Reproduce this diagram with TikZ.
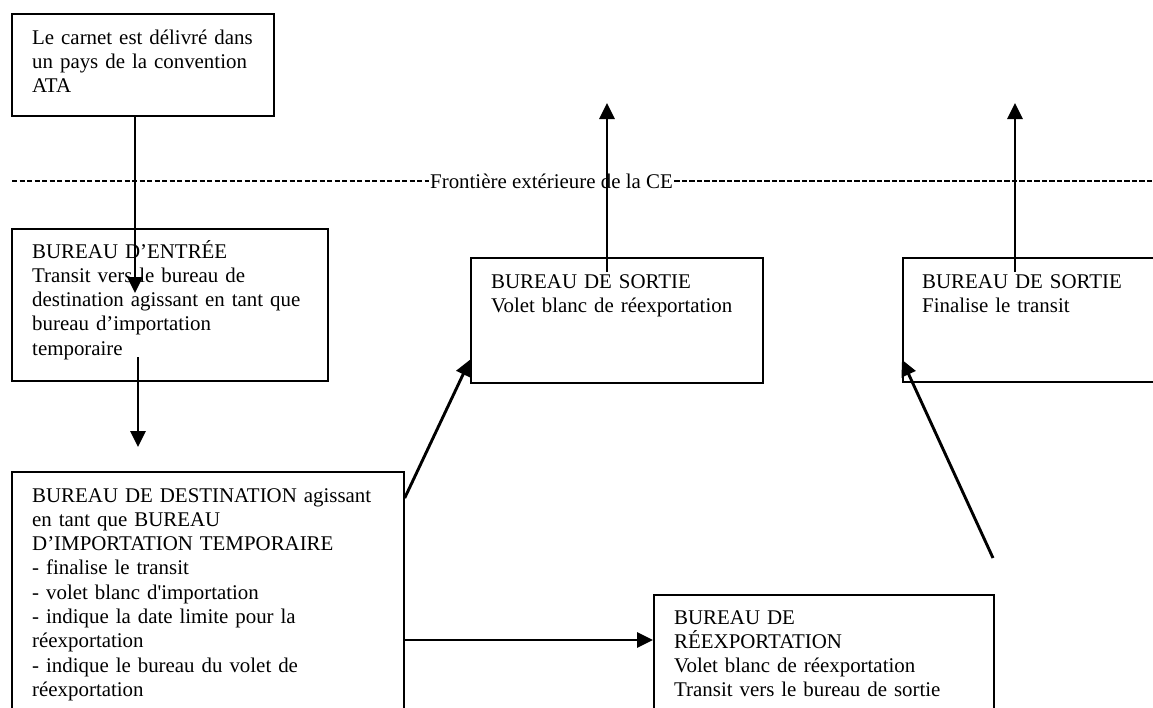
\documentclass[tikz,border=0pt]{standalone}
\usepackage{fontspec}
\setmainfont{Liberation Serif}[Ligatures=TeXOff]
\usetikzlibrary{arrows.meta,calc}
\tikzset{
  office/.style={draw=black, line width=1.7pt, rectangle, inner sep=0pt, anchor=north west},
  officetext/.style={anchor=base west, inner sep=0pt, align=left, text width=370pt,
    font=\fontsize{20.9pt}{24.3pt}\selectfont},
  flow/.style={line width=2.9pt, -{Triangle[length=16pt,width=15pt]}},
  frontierline/.style={line width=1.3pt, dash pattern=on 5.4pt off 2.1pt},
}
\begin{document}
\begin{tikzpicture}[x=1pt,y=-1pt]
\useasboundingbox (0,0) rectangle (1153,707);
\clip (0,0) rectangle (1153,707);
\fill[white] (0,0) rectangle (1153,707);

% offices
\node[office, minimum width=262pt, minimum height=102pt] (issue) at (11,13) {};
\node[office, minimum width=316pt, minimum height=152pt] (entry) at (11,228) {};
\node[office, minimum width=392pt, minimum height=300pt] (dest) at (11,471) {};
\node[office, minimum width=292pt, minimum height=125pt] (exit1) at (470,257) {};
\node[office, minimum width=300pt, minimum height=124pt] (exit2) at (902,257) {};
\node[office, minimum width=340pt, minimum height=200pt] (reexport) at (653,594) {};

% texts of the offices
\node[officetext] (issuetxt) at (32,44) {Le carnet est délivré dans\\un pays de la convention\\ATA};
\node[officetext] (entrytxt) at (32,258) {BUREAU D’ENTRÉE\\Transit vers le bureau de\\destination agissant en tant que\\bureau d’importation\\temporaire};
\node[officetext] (desttxt) at (32,502) {BUREAU DE DESTINATION agissant\\en tant que BUREAU\\D’IMPORTATION TEMPORAIRE\\- finalise le transit\\- volet blanc d'importation\\- indique la date limite pour la\\réexportation\\- indique le bureau du volet de\\réexportation};
\node[officetext] (exit1txt) at (491,288) {BUREAU DE SORTIE\\Volet blanc de réexportation};
\node[officetext] (exit2txt) at (922,288) {BUREAU DE SORTIE\\Finalise le transit};
\node[officetext] (reexporttxt) at (674,624) {BUREAU DE\\RÉEXPORTATION\\Volet blanc de réexportation\\Transit vers le bureau de sortie};

% external frontier
\node[anchor=base west, inner sep=0pt, font=\fontsize{20.9pt}{24.3pt}\selectfont] (border) at (430,188) {Frontière extérieure de la CE};
\draw[frontierline] (12,181) -- ($(border.base west)+(-1.5,-7)$);
\draw[frontierline] ($(border.base east)+(1.5,-7)$) -- (1153,181);

% flow of the carnet
\coordinate (a1end) at (135,293);
\coordinate (a2start) at (138,357);
\coordinate (a2end) at (138,447);
\coordinate (up1start) at (607,272);
\coordinate (up1end) at (607,103);
\coordinate (up2start) at (1015,272);
\coordinate (up2end) at (1015,103);
\coordinate (a6start) at (993,558);

\draw[flow] ($(issue.south west)+(124,0)$) -- (a1end);
\draw[flow] (a2start) -- (a2end);
\draw[flow] ($(dest.north east)+(0,27)$) -- ($(exit1.south west)+(0,-24)$);
\draw[flow] (up1start) -- (up1end);
\draw[flow] (up2start) -- (up2end);
\draw[flow] (a6start) -- ($(exit2.south west)+(0,-23)$);
\draw[flow] ($(dest.north east)+(0,169)$) -- ($(reexport.north west)+(0,46)$);
\end{tikzpicture}
\end{document}
